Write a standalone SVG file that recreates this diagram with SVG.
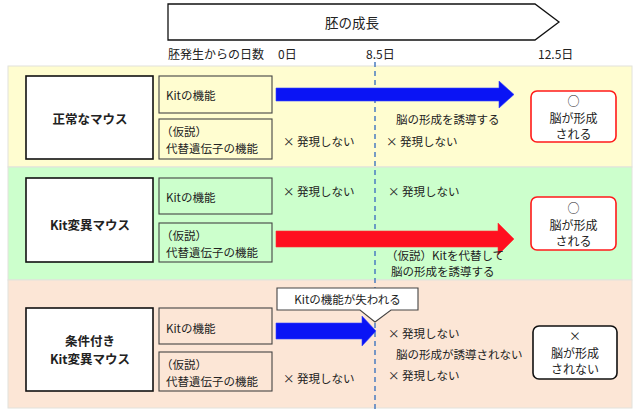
<svg xmlns="http://www.w3.org/2000/svg" width="640" height="417" viewBox="0 0 640 417">
<style>
text{font-family:"Noto Sans CJK JP","Noto Sans",sans-serif;fill:#222;font-size:11.5px}
.hd{font-size:12px}
.t{font-size:13.5px}
.m{font-size:12.5px;font-weight:bold;text-anchor:middle;dominant-baseline:central}
.s{font-size:11.5px;dominant-baseline:central}
.n{font-size:11.5px;dominant-baseline:central}
.r{font-size:12px;text-anchor:middle;dominant-baseline:central}
.main{fill:#fff;stroke:#111;stroke-width:1.6}
.sub{stroke:#444;stroke-width:1.1}
.band{stroke:#e2e2dc;stroke-width:1}
</style>
<rect width="640" height="417" fill="#fff"/>
<!-- bands -->
<rect class="band" x="8" y="66" width="624" height="101" fill="#fffdd0"/>
<rect class="band" x="8" y="167" width="624" height="113" fill="#ccffcc"/>
<rect class="band" x="8" y="280" width="624" height="128" fill="#fce6d6"/>
<!-- top arrow -->
<g id="growth">
<polygon points="168,4 535,4 559,22 535,40 168,40" fill="#fff" stroke="#111" stroke-width="1.3"/>
<text class="t" x="352" y="22" text-anchor="middle" dominant-baseline="central">胚の成長</text>
</g>
<g id="axis">
<text class="hd" x="168" y="53" dominant-baseline="central">胚発生からの日数</text>
<text class="hd" x="278" y="53" dominant-baseline="central">0日</text>
<text class="hd" x="366" y="53" dominant-baseline="central">8.5日</text>
<text class="hd" x="538" y="53" dominant-baseline="central">12.5日</text>
</g>
<!-- connectors -->
<g id="connectors">
<line x1="375" y1="62" x2="375" y2="410" stroke="#4a7cc0" stroke-width="1.5" stroke-dasharray="5,4"/>
<polygon points="276,88 499,88 499,81 514,94.5 499,108 499,101 276,101" fill="#0a14f5" stroke="#3344ff" stroke-width="0.6"/>
<polygon points="276,231 498,231 498,223 514,239 498,255 498,247 276,247" fill="#ff1020" stroke="#ff3030" stroke-width="0.6"/>
<polygon points="276,323 362,323 362,316 376,331 362,346 362,339 276,339" fill="#0a14f5" stroke="#3344ff" stroke-width="0.6"/>
</g>
<!-- row 1 -->
<g id="normal">
<rect class="main" x="26" y="76" width="127" height="83"/>
<text class="m" x="90" y="118">正常なマウス</text>
</g>
<g id="normal-kit">
<rect class="sub" x="159" y="76" width="113" height="37" fill="#fffdd0"/>
<text class="s" x="166" y="95">Kitの機能</text>
</g>
<g id="normal-alt">
<rect class="sub" x="159" y="119" width="113" height="40" fill="#fffdd0"/>
<text class="s" x="161" y="131">（仮説）</text>
<text class="s" x="166" y="148">代替遺伝子の機能</text>
</g>
<text class="n" x="283" y="141">× 発現しない</text>
<text class="n" x="396" y="119">脳の形成を誘導する</text>
<text class="n" x="386" y="141">× 発現しない</text>
<g id="normal-result">
<rect x="531" y="91" width="85" height="51" rx="6" fill="#fff" stroke="#ff1a1a" stroke-width="1.6"/>
<text class="r" x="573.5" y="100">○</text>
<text class="r" x="573.5" y="117">脳が形成</text>
<text class="r" x="573.5" y="133">される</text>
</g>
<!-- row 2 -->
<g id="kit-mutant">
<rect class="main" x="26" y="178" width="127" height="84"/>
<text class="m" x="90" y="224">Kit変異マウス</text>
</g>
<g id="mutant-kit">
<rect class="sub" x="159" y="178" width="113" height="36" fill="#ccffcc"/>
<text class="s" x="166" y="197">Kitの機能</text>
</g>
<g id="mutant-alt">
<rect class="sub" x="159" y="223" width="113" height="39" fill="#ccffcc"/>
<text class="s" x="161" y="235">（仮説）</text>
<text class="s" x="166" y="252">代替遺伝子の機能</text>
</g>
<text class="n" x="283" y="191">× 発現しない</text>
<text class="n" x="388" y="191">× 発現しない</text>
<text class="n" x="386" y="255">（仮説）Kitを代替して</text>
<text class="n" x="391" y="271">脳の形成を誘導する</text>
<g id="mutant-result">
<rect x="531" y="197" width="85" height="53" rx="6" fill="#fff" stroke="#ff1a1a" stroke-width="1.6"/>
<text class="r" x="573.5" y="207">○</text>
<text class="r" x="573.5" y="224">脳が形成</text>
<text class="r" x="573.5" y="240">される</text>
</g>
<!-- row 3 -->
<g id="conditional">
<rect class="main" x="26" y="308" width="127" height="83"/>
<text class="m" x="90" y="340">条件付き</text>
<text class="m" x="90" y="358">Kit変異マウス</text>
</g>
<g id="cond-kit">
<rect class="sub" x="159" y="308" width="113" height="36" fill="#fce6d6"/>
<text class="s" x="166" y="328">Kitの機能</text>
</g>
<g id="cond-alt">
<rect class="sub" x="159" y="352" width="113" height="39" fill="#fce6d6"/>
<text class="s" x="161" y="364">（仮説）</text>
<text class="s" x="166" y="381">代替遺伝子の機能</text>
</g>
<g id="callout">
<path d="M277,288 H418 V310 H391 L375,322 L360,310 H277 Z" fill="#fff" stroke="#444" stroke-width="1.1"/>
<text class="n" x="347.5" y="299" text-anchor="middle">Kitの機能が失われる</text>
</g>
<text class="n" x="388" y="333">× 発現しない</text>
<text class="n" x="396" y="354">脳の形成が誘導されない</text>
<text class="n" x="388" y="375">× 発現しない</text>
<text class="n" x="283" y="378">× 発現しない</text>
<g id="cond-result">
<rect x="533" y="326" width="84" height="53" rx="6" fill="#fff" stroke="#111" stroke-width="1.6"/>
<text class="r" x="575" y="335">×</text>
<text class="r" x="575" y="352">脳が形成</text>
<text class="r" x="575" y="368">されない</text>
</g>
</svg>
